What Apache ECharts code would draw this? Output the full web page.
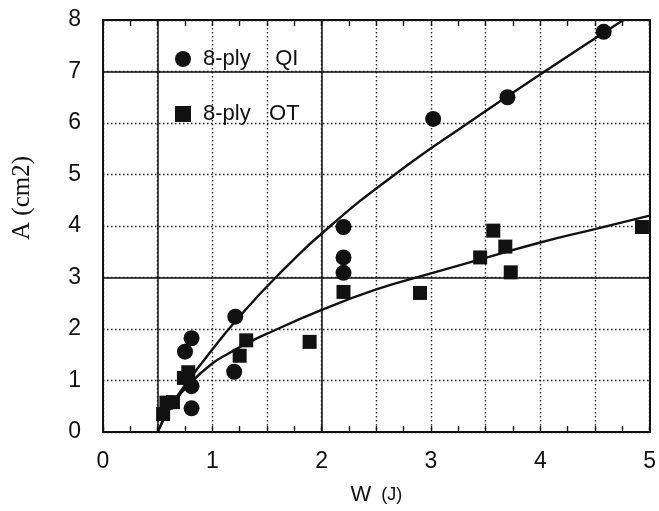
<!DOCTYPE html>
<html>
<head>
<meta charset="utf-8">
<script src="https://cdn.jsdelivr.net/npm/echarts@6/dist/echarts.min.js"></script>
<style>html,body{margin:0;padding:0;background:#fff}#c{width:659px;height:511px}</style>
</head>
<body>
<div id="c"></div>
<script>
// ---- data ----
var seriesNames = ['8-ply    QI', '8-ply   OT'];
var xTickLabels = ['0', '1', '2', '3', '4', '5'];
var yTickLabels = ['0', '1', '2', '3', '4', '5', '6', '7', '8'];
var yAxisTitle = 'A (cm2)';

// 8-ply QI (circles): [W, A]
var qiPoints = [
  [0.81, 0.46], [0.81, 0.89], [0.75, 1.56], [0.81, 1.82],
  [1.20, 1.17], [1.21, 2.24], [2.20, 3.09], [2.20, 3.39],
  [2.20, 3.98], [3.02, 6.08], [3.70, 6.50], [4.58, 7.77]
];
// 8-ply OT (squares): [W, A]
var otPoints = [
  [0.55, 0.35], [0.58, 0.57], [0.64, 0.58], [0.74, 1.05],
  [0.78, 1.16], [1.25, 1.48], [1.31, 1.78], [1.89, 1.75],
  [2.20, 2.72], [2.90, 2.70], [3.45, 3.39], [3.57, 3.91],
  [3.68, 3.60], [3.73, 3.10], [4.93, 3.98]
];
// fitted curves
var qiCurve = [
  [0.50, 0.00], [0.62, 0.50], [0.80, 1.05], [1.00, 1.60], [1.20, 2.12],
  [1.58, 3.00], [2.08, 4.00], [2.67, 5.00], [3.34, 6.00], [4.04, 7.00], [4.76, 8.00]
];
var otCurve = [
  [0.50, 0.00], [0.62, 0.48], [0.80, 0.95], [1.00, 1.33], [1.16, 1.54],
  [1.30, 1.70], [1.45, 1.86], [2.00, 2.37], [2.50, 2.77], [3.00, 3.08],
  [3.50, 3.38], [4.00, 3.68], [4.50, 3.94], [5.00, 4.20]
];
// solid reference lines in the grid
var solidX = [0.5, 2];
var solidY = [3, 7];

var ink = '#111111';
var dotted = {color: '#2a2a2a', width: 1.4, type: [1.6, 2.4]};
var chart = echarts.init(document.getElementById('c'), null, {renderer: 'canvas'});
var lbl = {fontFamily: 'Liberation Sans, Arial, sans-serif', fontSize: 23, color: ink};

var markData = solidX.map(function (v) { return {xAxis: v}; })
  .concat(solidY.map(function (v) { return {yAxis: v}; }));

chart.setOption({
  animation: false,
  backgroundColor: '#ffffff',
  grid: {left: 103, right: 6, top: 20, bottom: 78},
  graphic: [{
    type: 'text', left: 10, top: 156, rotation: Math.PI / 2,
    style: {text: yAxisTitle, fill: ink, font: '25px "Liberation Serif", "Times New Roman", serif'}
  }],
  legend: {
    data: [seriesNames[0], seriesNames[1]],
    orient: 'vertical', left: 170, top: 43,
    itemWidth: 16, itemHeight: 16, itemGap: 33,
    textStyle: {fontFamily: 'Liberation Sans, Arial, sans-serif', fontSize: 22, color: ink, padding: [0, 0, 0, 7]}
  },
  xAxis: [{
    type: 'value', min: 0, max: 5, interval: 0.5,
    name: '{a|W}   {b|(J)}', nameLocation: 'middle', nameGap: 52,
    nameTextStyle: {rich: {
      a: {fontFamily: 'Liberation Sans, Arial, sans-serif', fontSize: 22, color: ink},
      b: {fontFamily: 'Liberation Sans, Arial, sans-serif', fontSize: 18, color: ink}
    }},
    axisLine: {show: true, onZero: false, lineStyle: {color: ink, width: 2}},
    axisTick: {show: true, inside: true, length: 6, lineStyle: {color: ink, width: 1.4}},
    minorTick: {show: true, splitNumber: 2, length: 6, lineStyle: {color: ink, width: 1.4}},
    splitLine: {show: true, lineStyle: dotted},
    axisLabel: Object.assign({margin: 18, showMaxLabel: true, showMinLabel: true,
      formatter: function (v) { return Number.isInteger(v) ? xTickLabels[v] : ''; }}, lbl)
  }, {
    type: 'value', min: 0, max: 5, interval: 0.5, position: 'top',
    axisLine: {show: true, onZero: false, lineStyle: {color: ink, width: 2}},
    axisTick: {show: true, inside: true, length: 6, lineStyle: {color: ink, width: 1.4}},
    minorTick: {show: true, splitNumber: 2, length: 6, lineStyle: {color: ink, width: 1.4}},
    splitLine: {show: false},
    axisLabel: {show: false}
  }],
  yAxis: [{
    type: 'value', min: 0, max: 8, interval: 1,
    axisLine: {show: true, onZero: false, lineStyle: {color: ink, width: 2}},
    axisTick: {show: false},
    splitLine: {show: true, lineStyle: dotted},
    axisLabel: Object.assign({margin: 22, formatter: function (v) { return yTickLabels[v]; }}, lbl)
  }, {
    type: 'value', min: 0, max: 8, interval: 1, position: 'right',
    axisLine: {show: true, onZero: false, lineStyle: {color: ink, width: 2}},
    axisTick: {show: false}, splitLine: {show: false}, axisLabel: {show: false}
  }],
  series: [
    {
      type: 'line', name: 'grid', data: [], silent: true,
      markLine: {silent: true, symbol: ['none', 'none'], label: {show: false},
        lineStyle: {color: ink, width: 1.5, type: 'solid'}, data: markData}
    },
    {
      type: 'line', name: 'QI fit', data: qiCurve, smooth: true, showSymbol: false,
      lineStyle: {color: ink, width: 2.4}, silent: true, z: 3
    },
    {
      type: 'line', name: 'OT fit', data: otCurve, smooth: true, showSymbol: false,
      lineStyle: {color: ink, width: 2.4}, silent: true, z: 3
    },
    {
      type: 'scatter', name: seriesNames[0], data: qiPoints, symbol: 'circle', symbolSize: 16,
      itemStyle: {color: ink, opacity: 1}, z: 4
    },
    {
      type: 'scatter', name: seriesNames[1], data: otPoints, symbol: 'rect', symbolSize: 14,
      itemStyle: {color: ink, opacity: 1}, z: 4
    }
  ]
});
</script>
</body>
</html>
